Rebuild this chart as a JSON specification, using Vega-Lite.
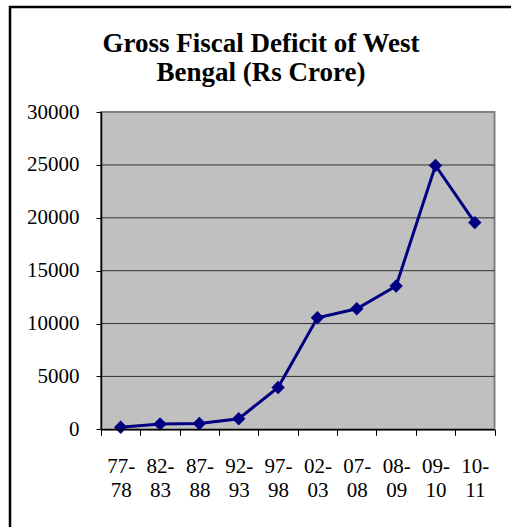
{
  "$schema": "https://vega.github.io/schema/vega-lite/v6.json",
  "width": 506,
  "height": 525,
  "autosize": {"type": "none"},
  "padding": {"left": 10, "top": 7, "right": -5, "bottom": -5},
  "background": "white",
  "config": {
    "view": {"stroke": "black", "strokeWidth": 2.5, "fill": "white"},
    "font": "Liberation Serif"
  },
  "title": {
    "text": ["Gross Fiscal Deficit of West", "Bengal (Rs Crore)"],
    "font": "Liberation Serif",
    "fontSize": 27,
    "fontWeight": "bold",
    "color": "black",
    "lineHeight": 29,
    "anchor": "middle",
    "frame": "group",
    "dx": -2,
    "offset": -80
  },
  "layer": [
    {
      "data": {"values": [{}]},
      "mark": {"type": "rect", "fill": "#C0C0C0", "stroke": "#808080", "strokeWidth": 2},
      "encoding": {
        "x": {
          "datum": "77-78",
          "type": "ordinal",
          "bandPosition": 0,
          "scale": {
            "domain": ["77-78", "82-83", "87-88", "92-93", "97-98", "02-03", "07-08", "08-09", "09-10", "10-11"],
            "range": [91, 484.5],
            "paddingInner": 0,
            "paddingOuter": 0
          },
          "axis": {
            "orient": "bottom",
            "offset": -102.7,
            "grid": false,
            "tickBand": "extent",
            "labelAngle": 0,
            "labelExpr": "[slice(datum.label,0,3), slice(datum.label,3)]",
            "labelFont": "Liberation Serif",
            "labelFontSize": 21,
            "labelLineHeight": 24,
            "labelPadding": 20,
            "labelOverlap": false,
            "labelColor": "black",
            "tickSize": 6,
            "tickColor": "black",
            "tickWidth": 1,
            "domainColor": "black",
            "domainWidth": 1.5,
            "title": null,
            "zindex": 1
          }
        },
        "x2": {"datum": "10-11", "bandPosition": 1},
        "y": {
          "datum": 0,
          "type": "quantitative",
          "scale": {"domain": [0, 30000], "range": [422.3, 105.1], "nice": false},
          "axis": {
            "offset": -91,
            "values": [0, 5000, 10000, 15000, 20000, 25000, 30000],
            "format": "d",
            "grid": false,
            "tickSize": 5,
            "tickColor": "black",
            "tickWidth": 1,
            "labelPadding": 17,
            "labelFont": "Liberation Serif",
            "labelFontSize": 21,
            "labelColor": "black",
            "domainColor": "black",
            "domainWidth": 1.5,
            "title": null,
            "zindex": 1
          }
        },
        "y2": {"datum": 30000}
      }
    },
    {
      "data": {"values": [{"g": 5000}, {"g": 10000}, {"g": 15000}, {"g": 20000}, {"g": 25000}]},
      "mark": {"type": "rule", "color": "#333333", "strokeWidth": 1},
      "encoding": {
        "y": {"field": "g", "type": "quantitative"},
        "x": {"datum": "77-78", "type": "ordinal", "bandPosition": 0},
        "x2": {"datum": "10-11", "bandPosition": 1}
      }
    },
    {
      "data": {
        "values": [
          {"period": "77-78", "deficit": 200},
          {"period": "82-83", "deficit": 500},
          {"period": "87-88", "deficit": 550},
          {"period": "92-93", "deficit": 1000},
          {"period": "97-98", "deficit": 3950},
          {"period": "02-03", "deficit": 10550},
          {"period": "07-08", "deficit": 11400},
          {"period": "08-09", "deficit": 13550},
          {"period": "09-10", "deficit": 24950},
          {"period": "10-11", "deficit": 19550}
        ]
      },
      "mark": {
        "type": "line",
        "color": "#000080",
        "strokeWidth": 3,
        "point": {"shape": "diamond", "size": 180, "filled": true, "color": "#000080", "opacity": 1}
      },
      "encoding": {
        "x": {"field": "period", "type": "ordinal", "sort": null},
        "y": {"field": "deficit", "type": "quantitative"}
      }
    }
  ]
}
